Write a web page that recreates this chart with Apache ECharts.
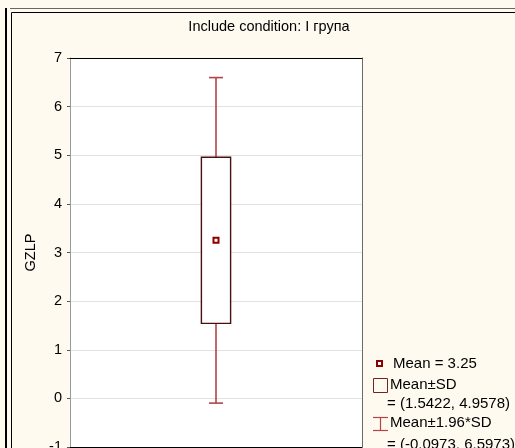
<!DOCTYPE html>
<html>
<head>
<meta charset="utf-8">
<script src="https://cdn.jsdelivr.net/npm/echarts@6/dist/echarts.min.js"></script>
<style>
  html, body { margin: 0; padding: 0; background: #fffaf0; }
  #chart { width: 515px; height: 448px; }
</style>
</head>
<body>
<div id="chart"></div>
<script>
// GZLP summary statistics for group I
const categories = ['I група'];
const meanValues = [3.25];
const sdLow = [1.5422];
const sdHigh = [4.9578];
const ciLow = [-0.0973];
const ciHigh = [6.5973];
const yTicks = { min: -1, max: 7, interval: 1 };

const FONT = '"Liberation Sans", Arial, sans-serif';
const WHISKER = '#b04646';
const BOX = '#4a1010';
const MEAN = '#8b0000';

const chart = echarts.init(document.getElementById('chart'), null, { renderer: 'canvas' });

const seriesData = categories.map((c, i) => [i, meanValues[i], sdLow[i], sdHigh[i], ciLow[i], ciHigh[i]]);

function renderBox(params, api) {
  const x = api.value(0);
  const pMean = api.coord([x, api.value(1)]);
  const pSdLo = api.coord([x, api.value(2)]);
  const pSdHi = api.coord([x, api.value(3)]);
  const pCiLo = api.coord([x, api.value(4)]);
  const pCiHi = api.coord([x, api.value(5)]);
  const bw = api.size([1, 0])[0] * 0.1;
  const cap = bw * 0.48;
  const cx = pMean[0];
  const wStyle = { stroke: WHISKER, lineWidth: 1.6 };
  return {
    type: 'group',
    children: [
      { type: 'line', shape: { x1: cx, y1: pSdHi[1], x2: cx, y2: pCiHi[1] }, style: wStyle },
      { type: 'line', shape: { x1: cx, y1: pSdLo[1], x2: cx, y2: pCiLo[1] }, style: wStyle },
      { type: 'line', shape: { x1: cx - cap / 2, y1: pCiHi[1], x2: cx + cap / 2, y2: pCiHi[1] }, style: wStyle },
      { type: 'line', shape: { x1: cx - cap / 2, y1: pCiLo[1], x2: cx + cap / 2, y2: pCiLo[1] }, style: wStyle },
      { type: 'rect', shape: { x: cx - bw / 2, y: pSdHi[1], width: bw, height: pSdLo[1] - pSdHi[1] },
        style: { fill: '#ffffff', stroke: BOX, lineWidth: 1.4 } },
      { type: 'rect', shape: { x: cx - 2.5, y: pMean[1] - 2.5, width: 5, height: 5 },
        style: { fill: '#ffffff', stroke: MEAN, lineWidth: 2 } }
    ]
  };
}

const fmt = v => v.toFixed(4);
const legendX = 373;
const legendText = {
  mean: 'Mean = ' + meanValues[0],
  sd: 'Mean±SD',
  sdRange: '= (' + fmt(sdLow[0]) + ', ' + fmt(sdHigh[0]) + ')',
  ci: 'Mean±1.96*SD',
  ciRange: '= (' + fmt(ciLow[0]) + ', ' + fmt(ciHigh[0]) + ')'
};
const lt = (text, x, y) => ({
  type: 'text', x: x, y: y,
  style: { text: text, font: '15px ' + FONT, fill: '#000', textVerticalAlign: 'middle' }
});

const option = {
  backgroundColor: '#fffaf0',
  animation: false,
  grid: { left: 70, right: 153, top: 58, bottom: 1, backgroundColor: '#ffffff', show: true, borderWidth: 0,
          outerBoundsMode: 'none', containLabel: false },
  xAxis: [
    { type: 'category', data: categories, position: 'bottom',
      axisLine: { show: true, onZero: false, lineStyle: { color: '#000', width: 1 } },
      axisTick: { show: false }, axisLabel: { show: false }, splitLine: { show: false } },
    { type: 'category', data: categories, position: 'top',
      axisLine: { show: true, onZero: false, lineStyle: { color: '#000', width: 1 } },
      axisTick: { show: false }, axisLabel: { show: false }, splitLine: { show: false } }
  ],
  yAxis: [
    { type: 'value', min: yTicks.min, max: yTicks.max, interval: yTicks.interval,
      name: 'GZLP', nameLocation: 'middle', nameGap: 31, nameRotate: 90,
      nameTextStyle: { fontFamily: FONT, fontSize: 14.5, color: '#000' },
      axisLine: { show: true, onZero: false, lineStyle: { color: '#9a9a9a', width: 1 } },
      axisTick: { show: true, length: 3, lineStyle: { color: '#555' } },
      axisLabel: { margin: 8, fontFamily: FONT, fontSize: 14.5, color: '#000' },
      splitLine: { show: true, lineStyle: { color: '#e2e2e2', width: 1 } } },
    { type: 'value', min: yTicks.min, max: yTicks.max, interval: yTicks.interval, position: 'right',
      axisLine: { show: true, onZero: false, lineStyle: { color: '#6a6a6a', width: 1 } },
      axisTick: { show: false }, axisLabel: { show: false }, splitLine: { show: false } }
  ],
  series: [{
    type: 'custom', renderItem: renderBox, data: seriesData,
    encode: { x: 0, y: [1, 2, 3, 4, 5] }, clip: false, z: 5
  }],
  graphic: [
    // outer frame decoration
    { type: 'line', shape: { x1: 6, y1: 8, x2: 6, y2: 448 }, style: { stroke: '#000', lineWidth: 2 } },
    { type: 'line', shape: { x1: 10, y1: 8.5, x2: 515, y2: 8.5 }, style: { stroke: '#666', lineWidth: 1 } },
    { type: 'line', shape: { x1: 11.5, y1: 12.5, x2: 515, y2: 12.5 }, style: { stroke: '#000', lineWidth: 1 } },
    { type: 'line', shape: { x1: 11.5, y1: 12.5, x2: 11.5, y2: 448 }, style: { stroke: '#000', lineWidth: 1 } },
    // title
    { type: 'text', x: 269, y: 27,
      style: { text: 'Include condition: ' + categories[0], font: '14.5px ' + FONT, fill: '#000',
               textAlign: 'center', textVerticalAlign: 'middle' } },
    // legend
    { type: 'rect', shape: { x: legendX + 4, y: 361, width: 5, height: 5 },
      style: { fill: '#fff', stroke: MEAN, lineWidth: 2 } },
    lt(legendText.mean, 393, 364),
    { type: 'rect', shape: { x: legendX + 0.5, y: 378.5, width: 14, height: 14 },
      style: { fill: 'none', stroke: '#7a2020', lineWidth: 1 } },
    lt(legendText.sd, 390, 385),
    lt(legendText.sdRange, 387, 404),
    { type: 'line', shape: { x1: legendX + 7.5, y1: 417, x2: legendX + 7.5, y2: 431 }, style: { stroke: WHISKER, lineWidth: 1.2 } },
    { type: 'line', shape: { x1: legendX, y1: 417.5, x2: legendX + 15, y2: 417.5 }, style: { stroke: WHISKER, lineWidth: 1.2 } },
    { type: 'line', shape: { x1: legendX, y1: 430.5, x2: legendX + 15, y2: 430.5 }, style: { stroke: WHISKER, lineWidth: 1.2 } },
    lt(legendText.ci, 390, 423),
    lt(legendText.ciRange, 387, 445)
  ]
};

chart.setOption(option);
</script>
</body>
</html>
